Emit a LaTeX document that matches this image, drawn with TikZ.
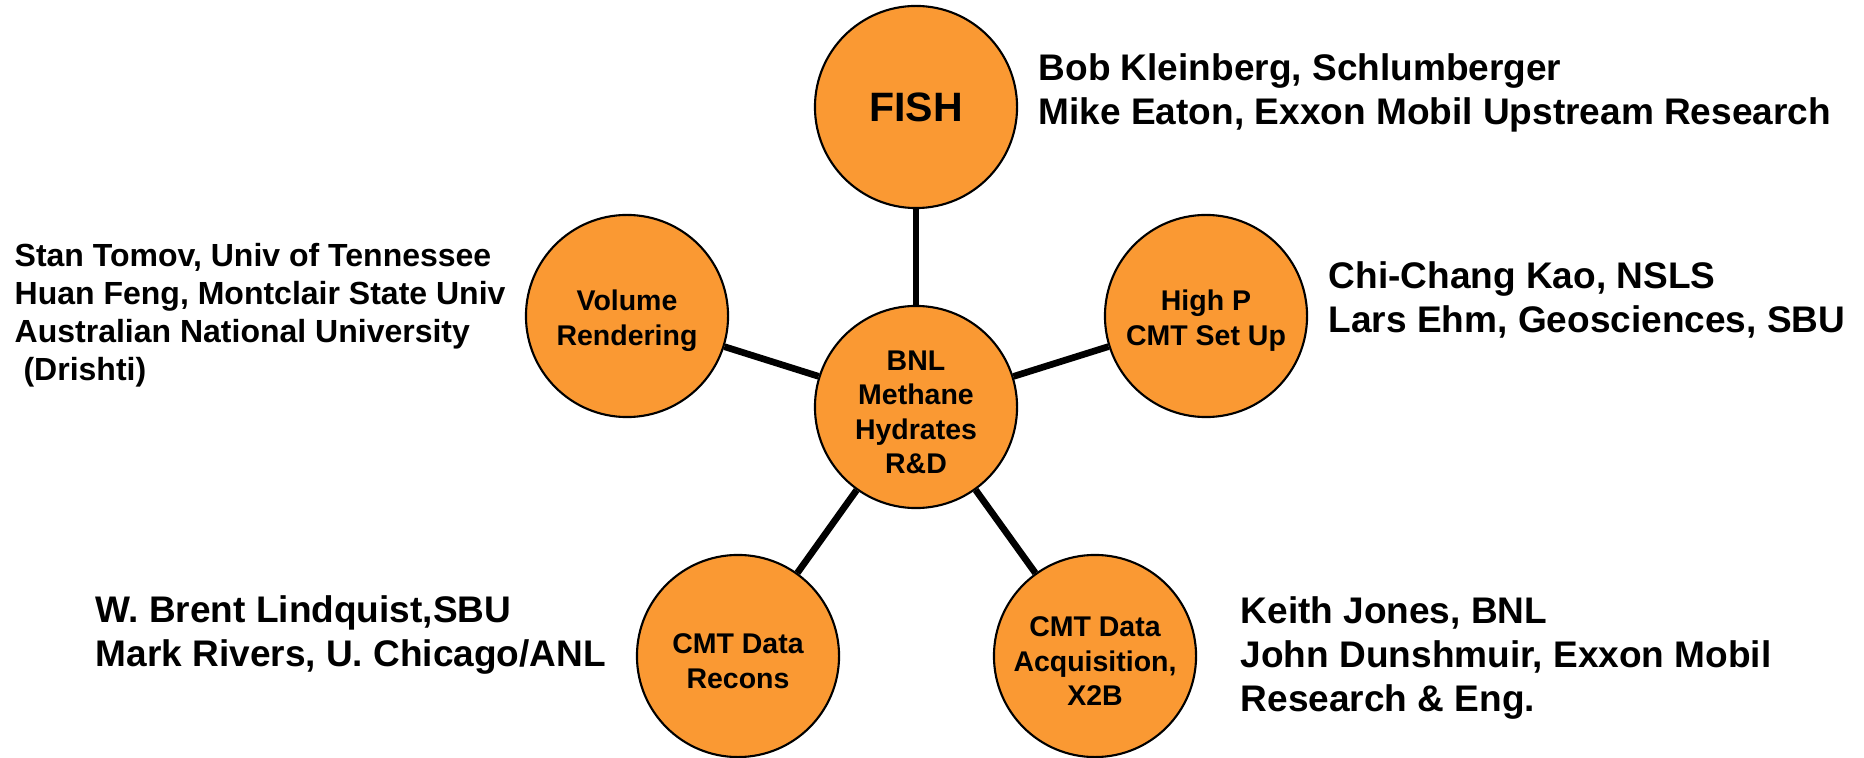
\documentclass[tikz,border=0pt]{standalone}
\usepackage{fontspec}
\setmainfont{Liberation Sans}
\definecolor{hubfill}{RGB}{250,153,51}
\newcommand{\bubstrut}{\rule{0pt}{8.6pt}}
\tikzset{
  bubble/.style={circle, draw=black, line width=0.6pt, fill=hubfill, minimum size=2.02cm, inner sep=0pt, align=center, font=\bfseries\fontsize{8.1pt}{9.8pt}\selectfont},
  link/.style={line width=1.9pt, draw=black},
  people/.style={anchor=west, inner sep=0pt, align=left, font=\bfseries\fontsize{10.53pt}{12.38pt}\selectfont},
  peoplesmall/.style={anchor=west, inner sep=0pt, align=left, font=\bfseries\fontsize{9.1pt}{10.81pt}\selectfont}
}
\begin{document}
\begin{tikzpicture}[x=0.01cm, y=-0.01cm]
\useasboundingbox (0,0) rectangle (1864,758);
% circles
\node[bubble] (hub) at (916,407) {\bubstrut BNL\\Methane\\Hydrates\\R\&D};
\node[bubble, font=\bfseries\fontsize{11.67pt}{13pt}\selectfont] (fish) at (916,107) {FISH};
\node[bubble] (vol) at (627,316) {\bubstrut Volume\\Rendering};
\node[bubble] (highp) at (1206,316) {\bubstrut High P\\CMT Set Up};
\node[bubble] (recons) at (738,656) {\bubstrut CMT Data\\Recons};
\node[bubble] (acq) at (1095,656) {\bubstrut CMT Data\\Acquisition,\\X2B};
% connectors
\draw[link] (fish) -- (hub);
\draw[link] (vol) -- (hub);
\draw[link] (highp) -- (hub);
\draw[link] (recons) -- (hub);
\draw[link] (acq) -- (hub);
% labels
\node[people] (tfish) at (1038,93) {Bob Kleinberg, Schlumberger\\Mike Eaton, Exxon Mobil Upstream Research};
\node[people] (thighp) at (1328,300) {Chi-Chang Kao, NSLS\\Lars Ehm, Geosciences, SBU};
\node[people] (trecons) at (95,635) {W. Brent Lindquist,SBU\\Mark Rivers, U. Chicago/ANL};
\node[people] (tacq) at (1240,658) {Keith Jones, BNL\\John Dunshmuir, Exxon Mobil\\Research \& Eng.};
\node[peoplesmall] (tvol) at (14,315) {Stan Tomov, Univ of Tennessee\\Huan Feng, Montclair State Univ\\Australian National University\\\ (Drishti)};
\end{tikzpicture}
\end{document}
